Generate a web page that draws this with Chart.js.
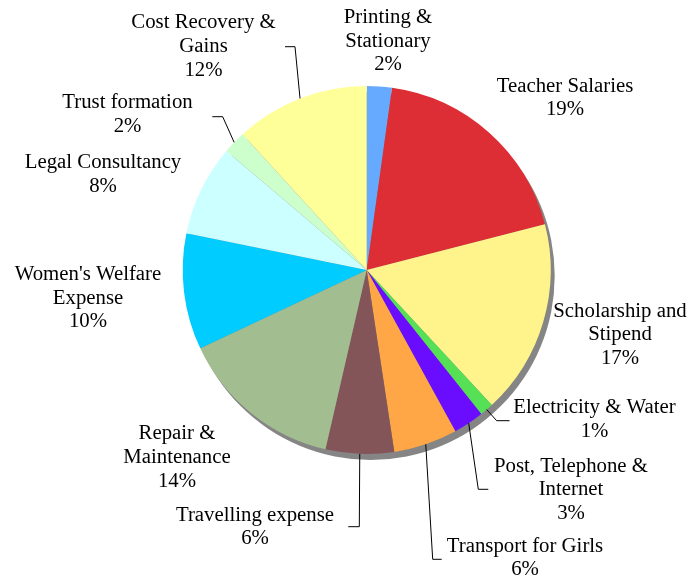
<!DOCTYPE html>
<html>
<head>
<meta charset="utf-8">
<script src="https://cdn.jsdelivr.net/npm/chart.js@4.4.1/dist/chart.umd.min.js"></script>
<style>
  html, body { margin: 0; padding: 0; background: #ffffff; }
  canvas { display: block; }
</style>
</head>
<body>
<canvas id="c" width="692" height="580"></canvas>
<script>
// ---- data ----
const categories = [
  ['Printing &', 'Stationary'],
  ['Teacher Salaries'],
  ['Scholarship and', 'Stipend'],
  ['Electricity & Water'],
  ['Post, Telephone &', 'Internet'],
  ['Transport for Girls'],
  ['Travelling expense'],
  ['Repair &', 'Maintenance'],
  ["Women's Welfare", 'Expense'],
  ['Legal Consultancy'],
  ['Trust formation'],
  ['Cost Recovery &', 'Gains']
];
const values = [2.2, 18.8, 17.1, 1.2, 2.7, 5.6, 6.0, 14.4, 10.2, 8.0, 2.0, 11.8];
const colors = ['#66aaff', '#dc2e34', '#fff48c', '#55e055', '#6a0dff', '#ffa646',
                '#835558', '#a2bd90', '#00ccff', '#ccffff', '#ccffcc', '#ffff99'];

// ---- label layout (styling): text center x, first baseline y, optional leader (start, elbow) ----
const labelLayout = [
  {x: 388, y: 23},
  {x: 565, y: 91.5},
  {x: 620, y: 316.5},
  {x: 594.5, y: 413.3, lead: [[509.5, 420.7], [496.7, 420.7]]},
  {x: 571, y: 471.7, lead: [[488.3, 489.3], [478.3, 489.3]]},
  {x: 525, y: 551.7, lead: [[441.7, 559.3], [432.7, 559.3]]},
  {x: 255, y: 520.7, lead: [[348.3, 526.7], [359.3, 526.7]]},
  {x: 177, y: 439.3},
  {x: 88, y: 280},
  {x: 103, y: 168},
  {x: 127.5, y: 108.3, lead: [[212.3, 116.7], [222.7, 116.7]]},
  {x: 203.5, y: 28.3, lead: [[285, 46.7], [295, 46.7]]}
];
const LINE_H = 23.6;
const FONT = '20.8px "Liberation Serif", "Times New Roman", serif';

const shadowPlugin = {
  id: 'pieShadow',
  beforeDatasetsDraw(chart) {
    const arc = chart.getDatasetMeta(0).data[0];
    if (!arc) return;
    const ctx = chart.ctx;
    ctx.save();
    ctx.fillStyle = '#858585';
    ctx.beginPath();
    ctx.arc(arc.x + 4, arc.y + 6, arc.outerRadius, 0, Math.PI * 2);
    ctx.fill();
    ctx.restore();
  }
};

const labelPlugin = {
  id: 'pieLabels',
  afterDatasetsDraw(chart) {
    const ctx = chart.ctx;
    const meta = chart.getDatasetMeta(0);
    const total = values.reduce((a, b) => a + b, 0);
    ctx.save();
    ctx.font = FONT;
    ctx.fillStyle = '#000000';
    ctx.textAlign = 'center';
    ctx.textBaseline = 'alphabetic';
    meta.data.forEach((arc, i) => {
      const L = labelLayout[i];
      const lines = categories[i].concat([Math.round(values[i] / total * 100) + '%']);
      lines.forEach((t, k) => ctx.fillText(t, L.x, L.y + k * LINE_H));
      if (L.lead) {
        const mid = (arc.startAngle + arc.endAngle) / 2;
        const px = arc.x + Math.cos(mid) * arc.outerRadius;
        const py = arc.y + Math.sin(mid) * arc.outerRadius;
        ctx.strokeStyle = '#000000';
        ctx.lineWidth = 1;
        ctx.beginPath();
        ctx.moveTo(L.lead[0][0], L.lead[0][1]);
        ctx.lineTo(L.lead[1][0], L.lead[1][1]);
        ctx.lineTo(px, py);
        ctx.stroke();
      }
    });
    ctx.restore();
  }
};

new Chart(document.getElementById('c'), {
  type: 'pie',
  data: {
    labels: categories.map(c => c.join(' ')),
    datasets: [{
      data: values,
      backgroundColor: colors,
      borderWidth: 0
    }]
  },
  options: {
    responsive: false,
    animation: false,
    devicePixelRatio: 1,
    layout: { padding: { left: 182.7, right: 141.3, top: 86, bottom: 126 } },
    plugins: { legend: { display: false }, tooltip: { enabled: false } }
  },
  plugins: [shadowPlugin, labelPlugin]
});
</script>
</body>
</html>
